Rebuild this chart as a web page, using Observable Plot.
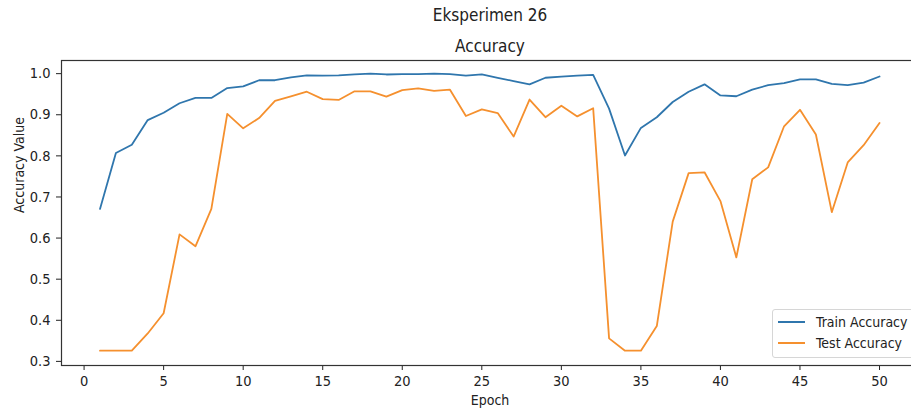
<!DOCTYPE html>
<html><head><meta charset="utf-8">
<script src="https://cdn.jsdelivr.net/npm/d3@7"></script>
<script src="https://cdn.jsdelivr.net/npm/@observablehq/plot@0.6"></script>
<style>
html,body{margin:0;padding:0;background:#fff;overflow:hidden;width:911px;height:414px;}
#chart{position:absolute;left:0;top:0;width:920px;}
#chart svg{max-width:none !important;}
#legend{position:absolute;left:772px;top:309px;width:150px;height:47px;border:1px solid #d6d6d6;border-radius:3px;background:rgba(255,255,255,0.85);
  font-family:"DejaVu Sans Condensed","Liberation Sans Narrow","DejaVu Sans",sans-serif;font-stretch:condensed;font-size:14px;color:#222;}
.item{position:absolute;left:5px;height:18px;display:flex;align-items:center;}
.sw{width:27px;height:0;border-top:2px solid;margin-right:11px;}
</style></head><body><div id="chart"></div><div id="legend"></div>
<script>
const epochs = [1,2,3,4,5,6,7,8,9,10,11,12,13,14,15,16,17,18,19,20,21,22,23,24,25,26,27,28,29,30,31,32,33,34,35,36,37,38,39,40,41,42,43,44,45,46,47,48,49,50];
const trainAccuracy = [0.671,0.807,0.827,0.887,0.905,0.928,0.941,0.941,0.965,0.969,0.984,0.984,0.991,0.996,0.995,0.996,0.998,1.000,0.998,0.999,0.999,1.000,0.999,0.995,0.998,0.990,0.982,0.974,0.990,0.993,0.995,0.997,0.915,0.801,0.868,0.894,0.931,0.956,0.974,0.947,0.945,0.961,0.972,0.977,0.986,0.986,0.975,0.972,0.978,0.993];
const testAccuracy = [0.326,0.326,0.326,0.368,0.417,0.609,0.580,0.671,0.902,0.867,0.892,0.934,0.945,0.956,0.938,0.936,0.957,0.957,0.944,0.960,0.964,0.958,0.961,0.897,0.913,0.904,0.847,0.937,0.894,0.922,0.896,0.916,0.356,0.326,0.326,0.386,0.640,0.758,0.760,0.690,0.553,0.743,0.772,0.872,0.912,0.852,0.663,0.784,0.826,0.880];
const xTicks = [0,5,10,15,20,25,30,35,40,45,50];
const yTicks = [0.3,0.4,0.5,0.6,0.7,0.8,0.9,1.0];
const seriesNames = ["Train Accuracy","Test Accuracy"];
const seriesColors = ["#2f76ad","#f5902e"];
const suptitle = "Eksperimen 26";
const title = "Accuracy";
const xLabel = "Epoch";
const yLabel = "Accuracy Value";

const rows = epochs.flatMap((e,i)=>[
  {epoch:e, acc:trainAccuracy[i], series:seriesNames[0]},
  {epoch:e, acc:testAccuracy[i], series:seriesNames[1]}
]);
const FONT = '"DejaVu Sans Condensed","Liberation Sans Narrow","DejaVu Sans",sans-serif';
const plot = Plot.plot({
  width:920, height:414, marginTop:60, marginBottom:49, marginLeft:61, marginRight:2,
  style:{fontFamily:FONT, fontSize:"14px", background:"white", overflow:"visible", fontStretch:"condensed", color:"#222", maxWidth:"none"},
  x:{domain:[-1.42,52.45]},
  y:{domain:[0.29,1.032]},
  color:{domain:seriesNames, range:seriesColors},
  marks:[
    Plot.axisX({ticks:xTicks, tickFormat:d=>String(d), tickSize:5, tickPadding:5, label:null, fontSize:14.5}),
    Plot.axisY({ticks:yTicks, tickFormat:d3.format(".1f"), tickSize:5, tickPadding:6, label:null, fontSize:14.5}),
    Plot.line(rows, {x:"epoch", y:"acc", stroke:"series", z:"series", strokeWidth:1.8}),
    Plot.frame({stroke:"#333", strokeWidth:1.2}),
    Plot.text([title], {frameAnchor:"top", dy:-20.5, fontSize:17, fill:"#222"}),
    Plot.text([suptitle], {frameAnchor:"top", dy:-52, fontSize:17, fill:"#222"}),
    Plot.text([xLabel], {frameAnchor:"bottom", dy:39, fontSize:14, fill:"#222"}),
    Plot.text([yLabel], {frameAnchor:"left", dx:-42, rotate:-90, fontSize:14, fill:"#222"})
  ]
});
document.getElementById("chart").appendChild(plot);
const lg = document.getElementById("legend");
seriesNames.forEach((n,i)=>{
  const it = document.createElement("div");
  it.className="item"; it.style.top = (3+i*21)+"px";
  const sw = document.createElement("span"); sw.className="sw"; sw.style.borderColor = seriesColors[i];
  const t = document.createElement("span"); t.textContent = n;
  it.appendChild(sw); it.appendChild(t); lg.appendChild(it);
});
</script></body></html>
